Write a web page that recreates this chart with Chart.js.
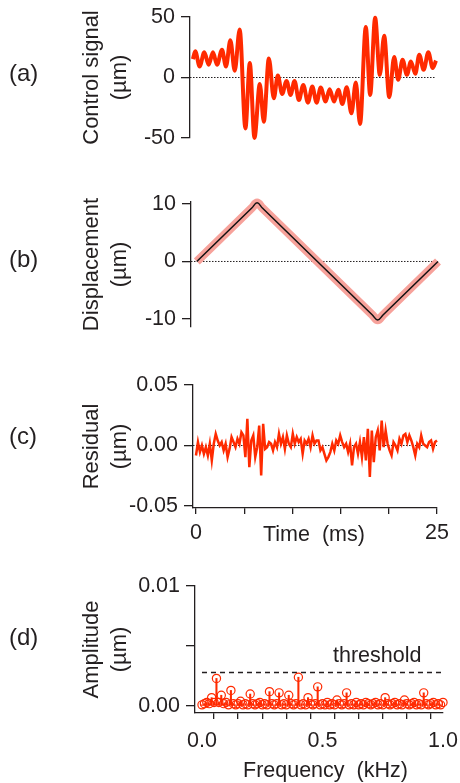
<!DOCTYPE html>
<html>
<head>
<meta charset="utf-8">
<script src="https://cdn.jsdelivr.net/npm/chart.js@4.4.1/dist/chart.umd.min.js"></script>
<style>
  body { margin: 0; background: #fff; }
  #page { position: relative; width: 460px; height: 783px; overflow: hidden;
          font-family: "Liberation Sans", Arial, sans-serif; color: #231f20; }
  #page canvas { position: absolute; left: 0; }
  .txt { position: absolute; font-size: 22px; line-height: 22px; white-space: pre; }
  .panel { font-size: 24px; line-height: 24px; }
</style>
</head>
<body>
<div id="page">
  <canvas id="chart-a" width="460" height="160" style="top:0"></canvas>
  <canvas id="chart-b" width="460" height="170" style="top:180px"></canvas>
  <canvas id="chart-c" width="460" height="200" style="top:360px"></canvas>
  <canvas id="chart-d" width="460" height="213" style="top:570px"></canvas>

  <div class="txt panel" style="left:9px;top:61px">(a)</div>
  <div class="txt panel" style="left:9px;top:247px">(b)</div>
  <div class="txt panel" style="left:9px;top:424px">(c)</div>
  <div class="txt panel" style="left:9px;top:625px">(d)</div>
  <div class="txt" style="left:263px;top:523px;font-size:21.5px">Time  (ms)</div>
  <div class="txt" style="left:243px;top:759px;font-size:21.5px">Frequency  (kHz)</div>
  <div class="txt" style="left:333px;top:644px;font-size:21.5px">threshold</div>
</div>

<script>
// (a) control signal, peaks and troughs
const controlTime = [0, 0.24, 0.69, 1.17, 1.62, 2.06, 2.48, 2.99, 3.40, 3.85, 4.30, 4.81, 5.40, 5.85,
  6.33, 6.88, 7.29, 7.81, 8.32, 8.73, 9.18, 9.63, 10.04, 10.45, 10.90, 11.35, 11.83, 12.28, 12.72,
  13.14, 13.65, 14.06, 14.51, 14.96, 15.37, 15.82, 16.30, 16.75, 17.19, 17.78, 18.23, 18.74, 19.22,
  19.67, 20.19, 20.70, 21.11, 21.56, 22.01, 22.42, 22.87, 23.28, 23.73, 24.21, 24.66, 25.0];
const controlSignal = [15.2, 21.6, 9.1, 20.8, 10.5, 20.8, 10.5, 23.0, 9.1, 30.7, 5.5, 39.6, -42.1, 11.9,
  -49.9, -5.3, -36.6, 15.8, -17.2, 1.7, -13.6, -2.8, -14.4, -2.8, -18.6, -6.1, -20.8, -7.5, -20.8,
  -8.3, -19.9, -9.7, -19.9, -10.2, -21.9, -8.0, -29.6, -4.2, -38.5, 41.8, -14.4, 49.3, 2.2,
  34.6, -16.3, 16.9, -1.9, 14.7, 2.2, 13.3, 3.0, 18.8, 6.4, 20.8, 7.8, 13.9];

// (b) displacement (triangle wave)
const displacementTime = [0, 5.7, 6.25, 6.8, 18.2, 18.75, 19.3, 25];
const displacementValue = [0, 9.3, 10.2, 9.3, -9.3, -10.2, -9.3, 0];

// (c) residual, evenly sampled over 0..25 ms
const RESIDUAL_END = 25;
const residualValue = [
  -0.0083, 0.0028, -0.0055, 0, -0.0069, -0.0014, -0.0083, 0.0014, -0.0124, 0.0014,
  0.0096, 0.0041, 0, 0.0028, -0.0041, 0.0014, -0.0096, -0.0028, 0.0069, 0.0028,
  -0.0014, 0.0055, 0.0014, 0.011, 0.0083, -0.0096, 0.022, -0.0179, 0.0041, 0.0083,
  -0.0096, -0.0014, 0.0165, -0.0248, 0.0179, -0.0028, -0.0014, 0.0028, 0.0014, -0.0041,
  0.0028, -0.0014, 0.0096, 0.0014, 0.0069, -0.0028, 0.0083, 0.0014, -0.0014, 0.0096,
  0.0014, 0.0069, 0.0028, 0.0055, -0.0069, 0.0041, 0.0014, 0.0055, -0.0014, 0.0083,
  0.0014, 0.0041,
  0.0041, -0.0041, -0.0014, -0.0069, -0.0124, -0.0096, -0.0055, 0.0014, -0.0041, 0.0041,
  0.0014, 0.0083, 0.0028, -0.0014, 0.0014, -0.0055, 0.0014, -0.0165, -0.0014, 0.0014,
  -0.0069, 0.0028, -0.0096, 0.0069, -0.0124, 0.0138, -0.0261, 0.0124, -0.0138, 0.0069,
  0.0124, -0.0041, 0.0206, -0.0014, 0.0124, 0.0014, -0.0041, -0.0083, 0.0028, 0,
  -0.0041, 0.0055, 0.0014, 0.0083, 0.0096, 0.0028, 0.0083, 0.0041, -0.0014, -0.0083,
  0.0014, -0.0014, 0.0083, 0.0014, 0, -0.0014, 0.0028, 0.0041, -0.0028, 0.0028, 0.0041];

// (d) amplitude spectrum, one value per 0.01 kHz bin from 0 to 1.0 kHz
const FREQ_STEP = 0.01;
const amplitudeValue = [
  0.0001, 0.0002, 0.0003, 0.0002, 0.0007, 0.0003, 0.0023, 0.0003, 0.0009, 0.0002,
  0.0003, 0.0001, 0.0013, 0.0002, 0.0001, 0.0002, 0.0004, 0.0001, 0.0002, 0.0001,
  0.0010, 0.0002, 0.0001, 0.0002, 0.0003, 0.0001, 0.0002, 0.0001, 0.0012, 0.0002,
  0.0001, 0.0002, 0.0011, 0.0001, 0.0002, 0.0001, 0.0009, 0.0002, 0.0001, 0.0002,
  0.0024, 0.0001, 0.0002, 0.0001, 0.0007, 0.0002, 0.0001, 0.0002, 0.0016, 0.0001,
  0.0002, 0.0001, 0.0003, 0.0001, 0.0002, 0.0001, 0.0005, 0.0002, 0.0001, 0.0002,
  0.0011, 0.0001, 0.0002, 0.0001, 0.0003, 0.0001, 0.0002, 0.0001, 0.0003, 0.0002,
  0.0001, 0.0002, 0.0003, 0.0001, 0.0002, 0.0001, 0.0007, 0.0002, 0.0001, 0.0002,
  0.0003, 0.0001, 0.0002, 0.0001, 0.0005, 0.0002, 0.0001, 0.0002, 0.0003, 0.0001,
  0.0002, 0.0001, 0.0011, 0.0002, 0.0001, 0.0002, 0.0003, 0.0001, 0.0002, 0.0001, 0.0003];
const thresholdLevel = 0.0028;

// tick values and labels
const ticksA = [-50, 0, 50], labelsA = ['-50', '0', '50'];
const ticksB = [-10, 0, 10], labelsB = ['-10', '0', '10'];
const ticksC = [-0.05, 0, 0.05], labelsC = ['-0.05', '0.00', '0.05'];
const timeTicks = [0, 5, 10, 15, 20, 25], timeLabels = ['0', '', '', '', '', '25'];
const ticksD = [0, 0.005, 0.01], labelsD = ['0.00', '', '0.01'];
const freqTicks = [0, 0.1, 0.2, 0.3, 0.4, 0.5, 0.6, 0.7, 0.8, 0.9, 1.0];
const freqLabels = ['0.0', '', '', '', '', '0.5', '', '', '', '', '1.0'];

const FONT = '"Liberation Sans", Arial, sans-serif';
const INK = '#231f20';
const RED = '#ff2a00';

Chart.defaults.font.family = FONT;
Chart.defaults.color = INK;

function pairs(xs, ys) {
  return ys.map((y, i) => ({ x: xs[i], y: y }));
}

function yAxis(min, max, ticks, labels, width, title) {
  return {
    type: 'linear', min: min, max: max,
    afterBuildTicks: s => { s.ticks = ticks.map(v => ({ value: v })); },
    afterFit: s => { s.width = width; s.paddingTop = 0; s.paddingBottom = 0; },
    grid: { drawOnChartArea: false, drawTicks: true, tickLength: 9, color: INK, lineWidth: 1.3 },
    border: { display: true, color: INK, width: 1.3 },
    ticks: { color: INK, font: { size: 21.5 }, padding: 6, autoSkip: false,
             callback: (v, i) => labels[i] },
    title: { display: true, text: title, color: INK,
             font: { size: 22, lineHeight: 1.27 }, padding: { top: 8, bottom: 0 } }
  };
}

function xAxis(min, max, ticks, labels, height, padding) {
  return {
    type: 'linear', min: min, max: max, offset: false,
    afterBuildTicks: s => { s.ticks = ticks.map(v => ({ value: v })); },
    // labels may hang past the plot edge, as in the original
    afterFit: s => { s.height = height; s.paddingLeft = 0; s.paddingRight = 0; },
    grid: { drawOnChartArea: false, drawTicks: true, tickLength: 6, color: INK, lineWidth: 1.3 },
    border: { display: true, color: INK, width: 1.3 },
    ticks: { color: INK, font: { size: 21.5 }, padding: padding, autoSkip: false,
             maxRotation: 0, callback: (v, i) => labels[i] }
  };
}

function hiddenX(min, max) {
  return { type: 'linear', min: min, max: max, display: false };
}

function zeroLine(x0, x1) {
  return {
    data: [{ x: x0, y: 0 }, { x: x1, y: 0 }],
    borderColor: INK, borderWidth: 1, borderDash: [1.5, 1.5],
    pointRadius: 0, showLine: true
  };
}

const baseOptions = {
  responsive: false,
  animation: false,
  events: [],
  plugins: { legend: { display: false }, tooltip: { enabled: false } }
};

// (a)
new Chart(document.getElementById('chart-a'), {
  type: 'scatter',
  data: {
    datasets: [
      { data: pairs(controlTime, controlSignal), showLine: true, borderColor: RED,
        borderWidth: 4, pointRadius: 0, cubicInterpolationMode: 'monotone', clip: false },
      zeroLine(-0.3, 24.9)
    ]
  },
  options: Object.assign({}, baseOptions, {
    layout: { padding: { left: 70, right: 24, top: 17, bottom: 22 } },
    scales: {
      x: hiddenX(-0.3, 25),
      y: yAxis(-50, 50, ticksA, labelsA, 120, ['Control signal', '(\u00b5m)'])
    }
  })
});

// (b)
new Chart(document.getElementById('chart-b'), {
  type: 'scatter',
  data: {
    datasets: [
      { data: pairs(displacementTime, displacementValue), showLine: true, borderColor: '#111',
        borderWidth: 1.5, pointRadius: 0, tension: 0.4, clip: false },
      { data: pairs(displacementTime, displacementValue), showLine: true, borderColor: '#f7a29b',
        borderWidth: 8.5, pointRadius: 0, tension: 0.4, borderCapStyle: 'butt',
        borderJoinStyle: 'round', clip: false },
      zeroLine(-0.6, 24.9)
    ]
  },
  options: Object.assign({}, baseOptions, {
    layout: { padding: { left: 70, right: 22, top: 22, bottom: 23 } },
    scales: {
      x: hiddenX(-0.6, 25),
      y: yAxis(-11.4, 10.35, ticksB, labelsB, 121, ['Displacement', '(\u00b5m)'])
    }
  })
});

// (c)
const residualStep = RESIDUAL_END / (residualValue.length - 1);
new Chart(document.getElementById('chart-c'), {
  type: 'scatter',
  data: {
    datasets: [
      { data: residualValue.map((v, i) => ({ x: i * residualStep, y: v })), showLine: true,
        borderColor: RED, borderWidth: 2.5, pointRadius: 0, tension: 0, clip: false },
      zeroLine(-0.31, 25)
    ]
  },
  options: Object.assign({}, baseOptions, {
    layout: { padding: { left: 70, right: 23, top: 25, bottom: 0 } },
    scales: {
      x: xAxis(-0.31, 25, timeTicks, timeLabels, 52, 6),
      y: yAxis(-0.0517, 0.05, ticksC, labelsC, 123, ['Residual', '(\u00b5m)'])
    }
  })
});

// (d)
const spectrum = amplitudeValue.map((v, i) => ({ x: i * FREQ_STEP, y: v }));
new Chart(document.getElementById('chart-d'), {
  type: 'scatter',
  data: {
    datasets: [
      { data: spectrum, showLine: false, pointRadius: 4.1, pointBorderWidth: 1.2,
        pointBorderColor: RED, pointBackgroundColor: 'rgba(255,255,255,0)', clip: false },
      { type: 'bar', data: spectrum, backgroundColor: RED, barThickness: 1.4,
        borderWidth: 0 },
      { data: [{ x: 0, y: thresholdLevel }, { x: 1.0, y: thresholdLevel }], showLine: true,
        borderColor: INK, borderWidth: 1.4, borderDash: [5, 4], pointRadius: 0 }
    ]
  },
  options: Object.assign({}, baseOptions, {
    layout: { padding: { left: 70, right: 17, top: 16, bottom: 30 } },
    scales: {
      x: xAxis(-0.029, 1.0, freqTicks, freqLabels, 40, 9),
      y: yAxis(-0.00058, 0.01, ticksD, labelsD, 125, ['Amplitude', '(\u00b5m)'])
    }
  })
});
</script>
</body>
</html>
